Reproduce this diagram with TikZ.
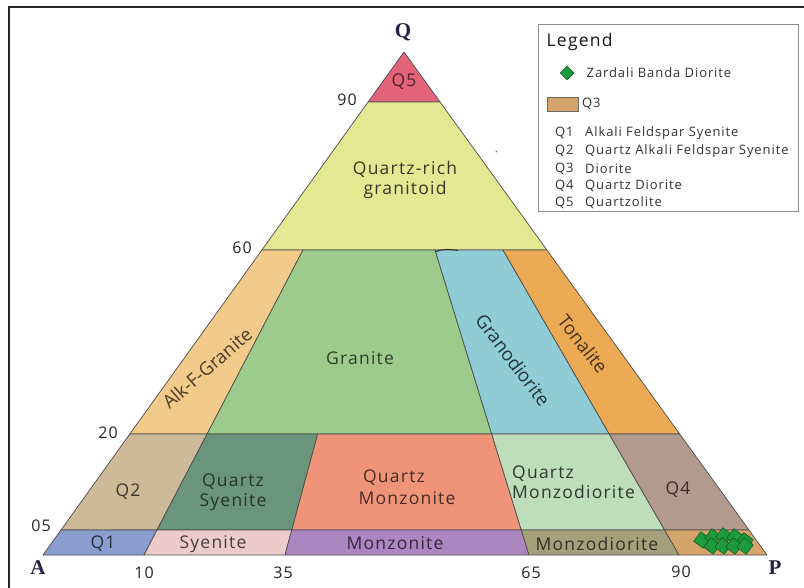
\documentclass[tikz,border=0pt]{standalone}
\usepackage{fontspec}
\setmainfont{Open Sans}
\newfontfamily\labfont[LetterSpace=7]{Open Sans}
\newfontfamily\rotfont{Open Sans}
\newfontfamily\vertfont{Liberation Serif}
\usetikzlibrary{shapes.geometric}
\definecolor{cq5}{HTML}{E2637A}
\definecolor{cqrg}{HTML}{E4E893}
\definecolor{calkf}{HTML}{F2CB8A}
\definecolor{cgran}{HTML}{9DCB8B}
\definecolor{cgrd}{HTML}{8FCCD6}
\definecolor{cton}{HTML}{ECAA55}
\definecolor{cqtwo}{HTML}{CCBA98}
\definecolor{cqsy}{HTML}{6A957B}
\definecolor{cqmz}{HTML}{F09479}
\definecolor{cqmzd}{HTML}{BEDDBA}
\definecolor{cqfour}{HTML}{B39A8E}
\definecolor{cqone}{HTML}{8A9DCF}
\definecolor{csy}{HTML}{EDCBCB}
\definecolor{cmz}{HTML}{AB86C0}
\definecolor{cmzd}{HTML}{A5A07C}
\definecolor{cqthree}{HTML}{D5A46A}
\definecolor{dgreen}{HTML}{1E9A3E}
\definecolor{vcol}{HTML}{2B2148}
\begin{document}
\begin{tikzpicture}[x=1pt,y=-1pt,
  region/.style={draw=black!70,line width=0.7pt,line join=round},
  lab/.style={font=\labfont\fontsize{17.5}{20}\selectfont,inner sep=0pt,align=center},
  rlab/.style={font=\rotfont\fontsize{18.5}{20}\selectfont,inner sep=0pt},
  num/.style={font=\labfont\fontsize{16}{18}\selectfont,inner sep=0pt,text=black!85},
  vert/.style={font=\vertfont\bfseries\fontsize{21}{21}\selectfont,text=vcol,inner sep=0pt},
  leg/.style={font=\labfont\fontsize{13}{15}\selectfont,inner sep=0pt,anchor=west,text=black!80},
  dm/.style={diamond,aspect=1,fill=dgreen,draw=dgreen!55!black,line width=0.5pt,minimum size=17pt,inner sep=0pt,rotate=8}]
\useasboundingbox (0,0) rectangle (804,588);
\fill[white] (0,0) rectangle (804,588);
\draw[line width=2pt,black!85] (9,588) -- (9,7) -- (804,7);

% regions
\filldraw[region,fill=cq5] (404,52) -- (440.1,102) -- (368.1,102) -- cycle;
\filldraw[region,fill=cqrg] (368.1,102) -- (440.1,102) -- (546.9,250) -- (261.9,250) -- cycle;
\filldraw[region,fill=calkf] (261.9,250) -- (303,250) -- (207.1,434) -- (129.8,434) -- cycle;
\filldraw[region,fill=cgran] (303,250) -- (435,250) -- (491.7,434) -- (207.1,434) -- cycle;
\filldraw[region,fill=cgrd] (435,250) -- (503,250) -- (609.2,434) -- (491.7,434) -- cycle;
\filldraw[region,fill=cton] (503,250) -- (546.9,250) -- (679.7,434) -- (609.2,434) -- cycle;
\filldraw[region,fill=cqtwo] (129.8,434) -- (207.1,434) -- (157,530) -- (61,530) -- cycle;
\filldraw[region,fill=cqsy] (207.1,434) -- (317.7,434) -- (291.8,530) -- (157,530) -- cycle;
\filldraw[region,fill=cqmz] (317.7,434) -- (491.7,434) -- (521.3,530) -- (291.8,530) -- cycle;
\filldraw[region,fill=cqmzd] (491.7,434) -- (609.2,434) -- (664.6,530) -- (521.3,530) -- cycle;
\filldraw[region,fill=cqfour] (609.2,434) -- (679.7,434) -- (749,530) -- (664.6,530) -- cycle;
\filldraw[region,fill=cqone] (61,530) -- (157,530) -- (144,555) -- (43,555) -- cycle;
\filldraw[region,fill=csy] (157,530) -- (291.8,530) -- (285,555) -- (144,555) -- cycle;
\filldraw[region,fill=cmz] (291.8,530) -- (521.3,530) -- (529,555) -- (285,555) -- cycle;
\filldraw[region,fill=cmzd] (521.3,530) -- (664.6,530) -- (679,555) -- (529,555) -- cycle;
\filldraw[region,fill=cqthree] (664.6,530) -- (749,530) -- (767,555) -- (679,555) -- cycle;
\draw[black!80,line width=1pt] (436,251.5) .. controls (442,249) and (450,249) .. (458,250.5);
\fill[black!60] (496.5,151.5) circle (0.8);

% diamonds (samples)
\node[dm] (d1) at (702,540) {};
\node[dm] (d2) at (713,537) {};
\node[dm] (d3) at (724,536) {};
\node[dm] (d4) at (735,537) {};
\node[dm] (d5) at (745,541) {};
\node[dm] (d6) at (712,546) {};
\node[dm] (d7) at (723,546) {};
\node[dm] (d8) at (734,546) {};
\node[dm] (d9) at (745,546) {};

% region labels
\node[lab,text=cq5!35!black] (lq5) at (404,82) {Q5};
\node[lab,text=cqrg!25!black] (lqrg) at (405,180) {Quartz-rich\\granitoid};
\node[rlab,text=calkf!30!black,rotate=41] (lalkf) at (207,368) {Alk-F-Granite};
\node[lab,text=cgran!30!black] (lgran) at (360,358) {Granite};
\node[rlab,text=cgrd!25!black,rotate=-53] (lgrd) at (513,360) {Granodiorite};
\node[rlab,text=cton!30!black,rotate=-52] (lton) at (583,344) {Tonalite};
\node[lab,text=cqtwo!30!black] (lq2) at (128,492) {Q2};
\node[lab,text=cqsy!35!black] (lqsy) at (233,492) {Quartz\\Syenite};
\node[lab,text=cqmz!30!black] (lqmza) at (394,478) {Quartz};
\node[lab,text=cqmz!30!black] (lqmzb) at (407,498) {Monzonite};
\node[lab,text=cqmzd!25!black,align=left,anchor=west] (lqmzd) at (512,482) {Quartz\\Monzodiorite};
\node[lab,text=cqfour!30!black] (lq4) at (678,490) {Q4};
\node[lab,text=cqone!30!black] (lq1) at (103,544) {Q1};
\node[lab,text=csy!30!black] (lsy) at (213,544) {Syenite};
\node[lab,text=cmz!30!black] (lmz) at (395,543) {Monzonite};
\node[lab,text=cmzd!30!black] (lmzd) at (597,544) {Monzodiorite};

% axis numbers
\node[num] (n90) at (347,100) {90};
\node[num] (n60) at (242,248) {60};
\node[num] (n20) at (108,433) {20};
\node[num] (n05) at (41,526) {05};
\node[num] (b10) at (144,573) {10};
\node[num] (b35) at (283,573) {35};
\node[num] (b65) at (531,573) {65};
\node[num] (b90) at (681,572) {90};

% vertices
\node[vert] (vq) at (403,32) {Q};
\node[vert] (va) at (38,568) {A};
\node[vert] (vp) at (775,568) {P};

% legend
\draw[black!45,line width=0.8pt] (538,24) rectangle (798,211);
\node[leg,font=\labfont\fontsize{17.5}{18}\selectfont,text=black!90] (lgt) at (546.5,42) {Legend};
\node[dm,minimum size=14pt,rotate=-8] (lgd) at (567,73) {};
\node[leg] (lgz) at (586.5,73) {Zardali Banda Diorite};
\filldraw[fill=cqthree,draw=black!60,line width=0.6pt] (547,97) rectangle (578,111.5);
\node[leg] (lg3) at (582,104) {Q3};
\node[leg] (k1) at (555,133) {Q1};
\node[leg] (t1) at (585,133) {Alkali Feldspar Syenite};
\node[leg] (k2) at (555,151) {Q2};
\node[leg] (t2) at (585,151) {Quartz Alkali Feldspar Syenite};
\node[leg] (k3) at (555,169) {Q3};
\node[leg] (t3) at (585,169) {Diorite};
\node[leg] (k4) at (555,186) {Q4};
\node[leg] (t4) at (585,186) {Quartz Diorite};
\node[leg] (k5) at (555,203) {Q5};
\node[leg] (t5) at (585,203) {Quartzolite};
\end{tikzpicture}
\end{document}
